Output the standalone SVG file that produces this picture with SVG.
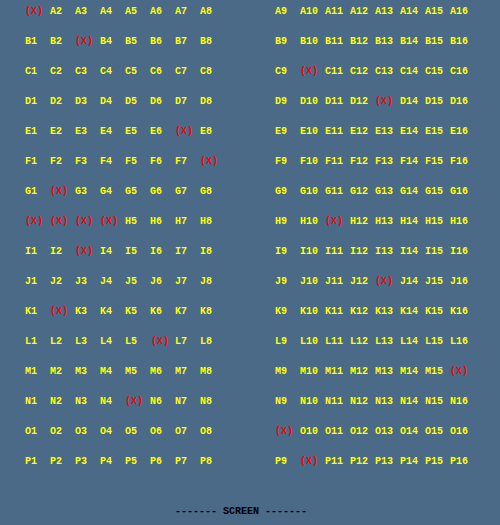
<svg xmlns="http://www.w3.org/2000/svg" width="500" height="525" viewBox="0 0 500 525">
<style>
text{font-family:"Liberation Mono","DejaVu Sans Mono",monospace;font-size:10px;font-weight:bold}
.s{fill:#ffff00}
.x{fill:#ff0000}
.scr{fill:#000000}
</style>
<rect width="500" height="525" fill="#4a6a88"/>
<g id="row-A"><text class="x" x="25" y="14">(X)</text><text class="s" x="50" y="14">A2</text><text class="s" x="75" y="14">A3</text><text class="s" x="100" y="14">A4</text><text class="s" x="125" y="14">A5</text><text class="s" x="150" y="14">A6</text><text class="s" x="175" y="14">A7</text><text class="s" x="200" y="14">A8</text><text class="s" x="275" y="14">A9</text><text class="s" x="300" y="14">A10</text><text class="s" x="325" y="14">A11</text><text class="s" x="350" y="14">A12</text><text class="s" x="375" y="14">A13</text><text class="s" x="400" y="14">A14</text><text class="s" x="425" y="14">A15</text><text class="s" x="450" y="14">A16</text></g>
<g id="row-B"><text class="s" x="25" y="44">B1</text><text class="s" x="50" y="44">B2</text><text class="x" x="75" y="44">(X)</text><text class="s" x="100" y="44">B4</text><text class="s" x="125" y="44">B5</text><text class="s" x="150" y="44">B6</text><text class="s" x="175" y="44">B7</text><text class="s" x="200" y="44">B8</text><text class="s" x="275" y="44">B9</text><text class="s" x="300" y="44">B10</text><text class="s" x="325" y="44">B11</text><text class="s" x="350" y="44">B12</text><text class="s" x="375" y="44">B13</text><text class="s" x="400" y="44">B14</text><text class="s" x="425" y="44">B15</text><text class="s" x="450" y="44">B16</text></g>
<g id="row-C"><text class="s" x="25" y="74">C1</text><text class="s" x="50" y="74">C2</text><text class="s" x="75" y="74">C3</text><text class="s" x="100" y="74">C4</text><text class="s" x="125" y="74">C5</text><text class="s" x="150" y="74">C6</text><text class="s" x="175" y="74">C7</text><text class="s" x="200" y="74">C8</text><text class="s" x="275" y="74">C9</text><text class="x" x="300" y="74">(X)</text><text class="s" x="325" y="74">C11</text><text class="s" x="350" y="74">C12</text><text class="s" x="375" y="74">C13</text><text class="s" x="400" y="74">C14</text><text class="s" x="425" y="74">C15</text><text class="s" x="450" y="74">C16</text></g>
<g id="row-D"><text class="s" x="25" y="104">D1</text><text class="s" x="50" y="104">D2</text><text class="s" x="75" y="104">D3</text><text class="s" x="100" y="104">D4</text><text class="s" x="125" y="104">D5</text><text class="s" x="150" y="104">D6</text><text class="s" x="175" y="104">D7</text><text class="s" x="200" y="104">D8</text><text class="s" x="275" y="104">D9</text><text class="s" x="300" y="104">D10</text><text class="s" x="325" y="104">D11</text><text class="s" x="350" y="104">D12</text><text class="x" x="375" y="104">(X)</text><text class="s" x="400" y="104">D14</text><text class="s" x="425" y="104">D15</text><text class="s" x="450" y="104">D16</text></g>
<g id="row-E"><text class="s" x="25" y="134">E1</text><text class="s" x="50" y="134">E2</text><text class="s" x="75" y="134">E3</text><text class="s" x="100" y="134">E4</text><text class="s" x="125" y="134">E5</text><text class="s" x="150" y="134">E6</text><text class="x" x="175" y="134">(X)</text><text class="s" x="200" y="134">E8</text><text class="s" x="275" y="134">E9</text><text class="s" x="300" y="134">E10</text><text class="s" x="325" y="134">E11</text><text class="s" x="350" y="134">E12</text><text class="s" x="375" y="134">E13</text><text class="s" x="400" y="134">E14</text><text class="s" x="425" y="134">E15</text><text class="s" x="450" y="134">E16</text></g>
<g id="row-F"><text class="s" x="25" y="164">F1</text><text class="s" x="50" y="164">F2</text><text class="s" x="75" y="164">F3</text><text class="s" x="100" y="164">F4</text><text class="s" x="125" y="164">F5</text><text class="s" x="150" y="164">F6</text><text class="s" x="175" y="164">F7</text><text class="x" x="200" y="164">(X)</text><text class="s" x="275" y="164">F9</text><text class="s" x="300" y="164">F10</text><text class="s" x="325" y="164">F11</text><text class="s" x="350" y="164">F12</text><text class="s" x="375" y="164">F13</text><text class="s" x="400" y="164">F14</text><text class="s" x="425" y="164">F15</text><text class="s" x="450" y="164">F16</text></g>
<g id="row-G"><text class="s" x="25" y="194">G1</text><text class="x" x="50" y="194">(X)</text><text class="s" x="75" y="194">G3</text><text class="s" x="100" y="194">G4</text><text class="s" x="125" y="194">G5</text><text class="s" x="150" y="194">G6</text><text class="s" x="175" y="194">G7</text><text class="s" x="200" y="194">G8</text><text class="s" x="275" y="194">G9</text><text class="s" x="300" y="194">G10</text><text class="s" x="325" y="194">G11</text><text class="s" x="350" y="194">G12</text><text class="s" x="375" y="194">G13</text><text class="s" x="400" y="194">G14</text><text class="s" x="425" y="194">G15</text><text class="s" x="450" y="194">G16</text></g>
<g id="row-H"><text class="x" x="25" y="224">(X)</text><text class="x" x="50" y="224">(X)</text><text class="x" x="75" y="224">(X)</text><text class="x" x="100" y="224">(X)</text><text class="s" x="125" y="224">H5</text><text class="s" x="150" y="224">H6</text><text class="s" x="175" y="224">H7</text><text class="s" x="200" y="224">H8</text><text class="s" x="275" y="224">H9</text><text class="s" x="300" y="224">H10</text><text class="x" x="325" y="224">(X)</text><text class="s" x="350" y="224">H12</text><text class="s" x="375" y="224">H13</text><text class="s" x="400" y="224">H14</text><text class="s" x="425" y="224">H15</text><text class="s" x="450" y="224">H16</text></g>
<g id="row-I"><text class="s" x="25" y="254">I1</text><text class="s" x="50" y="254">I2</text><text class="x" x="75" y="254">(X)</text><text class="s" x="100" y="254">I4</text><text class="s" x="125" y="254">I5</text><text class="s" x="150" y="254">I6</text><text class="s" x="175" y="254">I7</text><text class="s" x="200" y="254">I8</text><text class="s" x="275" y="254">I9</text><text class="s" x="300" y="254">I10</text><text class="s" x="325" y="254">I11</text><text class="s" x="350" y="254">I12</text><text class="s" x="375" y="254">I13</text><text class="s" x="400" y="254">I14</text><text class="s" x="425" y="254">I15</text><text class="s" x="450" y="254">I16</text></g>
<g id="row-J"><text class="s" x="25" y="284">J1</text><text class="s" x="50" y="284">J2</text><text class="s" x="75" y="284">J3</text><text class="s" x="100" y="284">J4</text><text class="s" x="125" y="284">J5</text><text class="s" x="150" y="284">J6</text><text class="s" x="175" y="284">J7</text><text class="s" x="200" y="284">J8</text><text class="s" x="275" y="284">J9</text><text class="s" x="300" y="284">J10</text><text class="s" x="325" y="284">J11</text><text class="s" x="350" y="284">J12</text><text class="x" x="375" y="284">(X)</text><text class="s" x="400" y="284">J14</text><text class="s" x="425" y="284">J15</text><text class="s" x="450" y="284">J16</text></g>
<g id="row-K"><text class="s" x="25" y="314">K1</text><text class="x" x="50" y="314">(X)</text><text class="s" x="75" y="314">K3</text><text class="s" x="100" y="314">K4</text><text class="s" x="125" y="314">K5</text><text class="s" x="150" y="314">K6</text><text class="s" x="175" y="314">K7</text><text class="s" x="200" y="314">K8</text><text class="s" x="275" y="314">K9</text><text class="s" x="300" y="314">K10</text><text class="s" x="325" y="314">K11</text><text class="s" x="350" y="314">K12</text><text class="s" x="375" y="314">K13</text><text class="s" x="400" y="314">K14</text><text class="s" x="425" y="314">K15</text><text class="s" x="450" y="314">K16</text></g>
<g id="row-L"><text class="s" x="25" y="344">L1</text><text class="s" x="50" y="344">L2</text><text class="s" x="75" y="344">L3</text><text class="s" x="100" y="344">L4</text><text class="s" x="125" y="344">L5</text><text class="x" x="151" y="344">(X)</text><text class="s" x="175" y="344">L7</text><text class="s" x="200" y="344">L8</text><text class="s" x="275" y="344">L9</text><text class="s" x="300" y="344">L10</text><text class="s" x="325" y="344">L11</text><text class="s" x="350" y="344">L12</text><text class="s" x="375" y="344">L13</text><text class="s" x="400" y="344">L14</text><text class="s" x="425" y="344">L15</text><text class="s" x="450" y="344">L16</text></g>
<g id="row-M"><text class="s" x="25" y="374">M1</text><text class="s" x="50" y="374">M2</text><text class="s" x="75" y="374">M3</text><text class="s" x="100" y="374">M4</text><text class="s" x="125" y="374">M5</text><text class="s" x="150" y="374">M6</text><text class="s" x="175" y="374">M7</text><text class="s" x="200" y="374">M8</text><text class="s" x="275" y="374">M9</text><text class="s" x="300" y="374">M10</text><text class="s" x="325" y="374">M11</text><text class="s" x="350" y="374">M12</text><text class="s" x="375" y="374">M13</text><text class="s" x="400" y="374">M14</text><text class="s" x="425" y="374">M15</text><text class="x" x="450" y="374">(X)</text></g>
<g id="row-N"><text class="s" x="25" y="404">N1</text><text class="s" x="50" y="404">N2</text><text class="s" x="75" y="404">N3</text><text class="s" x="100" y="404">N4</text><text class="x" x="125" y="404">(X)</text><text class="s" x="150" y="404">N6</text><text class="s" x="175" y="404">N7</text><text class="s" x="200" y="404">N8</text><text class="s" x="275" y="404">N9</text><text class="s" x="300" y="404">N10</text><text class="s" x="325" y="404">N11</text><text class="s" x="350" y="404">N12</text><text class="s" x="375" y="404">N13</text><text class="s" x="400" y="404">N14</text><text class="s" x="425" y="404">N15</text><text class="s" x="450" y="404">N16</text></g>
<g id="row-O"><text class="s" x="25" y="434">O1</text><text class="s" x="50" y="434">O2</text><text class="s" x="75" y="434">O3</text><text class="s" x="100" y="434">O4</text><text class="s" x="125" y="434">O5</text><text class="s" x="150" y="434">O6</text><text class="s" x="175" y="434">O7</text><text class="s" x="200" y="434">O8</text><text class="x" x="275" y="434">(X)</text><text class="s" x="300" y="434">O10</text><text class="s" x="325" y="434">O11</text><text class="s" x="350" y="434">O12</text><text class="s" x="375" y="434">O13</text><text class="s" x="400" y="434">O14</text><text class="s" x="425" y="434">O15</text><text class="s" x="450" y="434">O16</text></g>
<g id="row-P"><text class="s" x="25" y="464">P1</text><text class="s" x="50" y="464">P2</text><text class="s" x="75" y="464">P3</text><text class="s" x="100" y="464">P4</text><text class="s" x="125" y="464">P5</text><text class="s" x="150" y="464">P6</text><text class="s" x="175" y="464">P7</text><text class="s" x="200" y="464">P8</text><text class="s" x="275" y="464">P9</text><text class="x" x="300" y="464">(X)</text><text class="s" x="325" y="464">P11</text><text class="s" x="350" y="464">P12</text><text class="s" x="375" y="464">P13</text><text class="s" x="400" y="464">P14</text><text class="s" x="425" y="464">P15</text><text class="s" x="450" y="464">P16</text></g>
<g id="screen"><text class="scr" x="175" y="514" xml:space="preserve">------- SCREEN -------</text></g>
</svg>
